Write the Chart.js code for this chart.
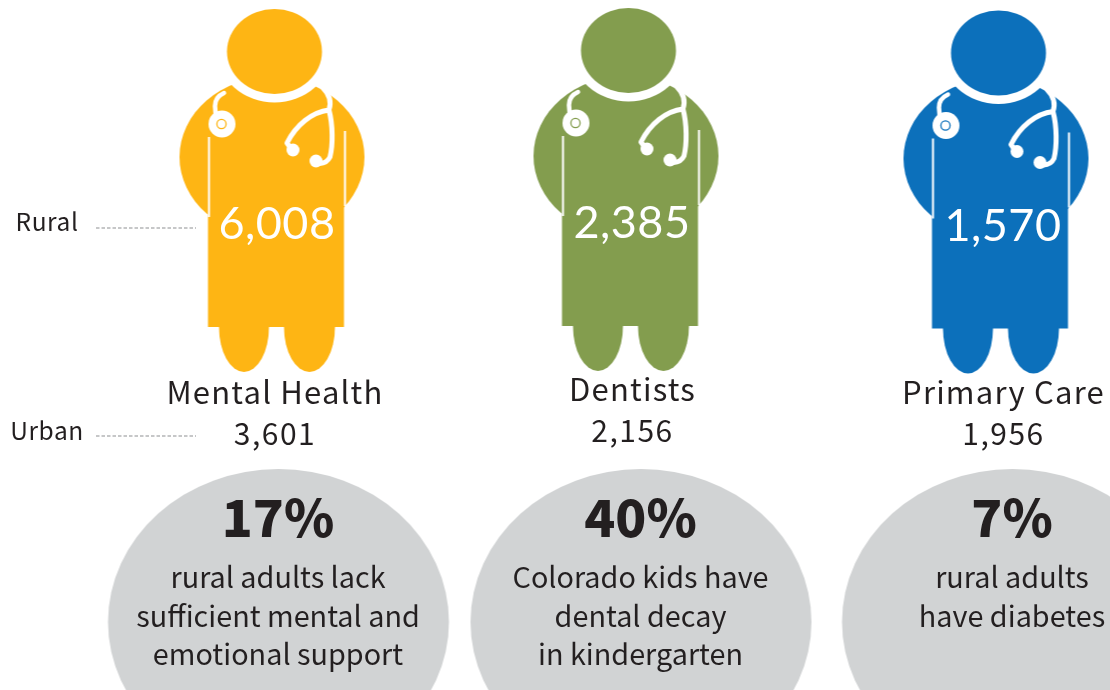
<!DOCTYPE html>
<html>
<head>
<meta charset="utf-8">
<title>Colorado health workforce</title>
<script src="https://cdn.jsdelivr.net/npm/chart.js@4"></script>
<style>
html, body { margin: 0; padding: 0; background: #fff; overflow: hidden; }
canvas { display: block; }
</style>
</head>
<body>
<canvas id="chart" width="1110" height="690"></canvas>
<script>
const categories = ['Mental Health', 'Dentists', 'Primary Care'];
const rows = ['Rural', 'Urban', 'Share'];
const ruralCounts = [6008, 2385, 1570];
const urbanCounts = [3601, 2156, 1956];
const percents = [17, 40, 7];
const captions = [
    ['rural adults lack', 'sufficient mental and', 'emotional support'],
    ['Colorado kids have', 'dental decay', 'in kindergarten'],
    ['rural adults', 'have diabetes']
];

const colors = ['#feb514', '#839d4e', '#0c70bb'];
const inkColor = '#231f20';
const bubbleColor = '#d1d3d4';
const textFont = '"Noto Sans CJK SC", "Noto Sans", sans-serif';

// the columns in the picture are not quite evenly spaced
const doctorShiftX = [0, -8, 0];
const doctorShiftY = [0, -1, 1.5];
const titleShiftX = [0.5, -4, 5];
const titleBaseline = [404, 401, 404];
const urbanBaseline = [445, 442, 445];
const numberShiftX = [2.5, -4.5, 4.5];
const numberBaseline = [238.5, 237.5, 240.5];
const bubbleShiftX = [4, 4.5, 14];

function makeDoctor(color, shiftX, shiftY) {
    const c = document.createElement('canvas');
    c.width = 280;
    c.height = 480;
    const g = c.getContext('2d');
    // drawn in page pixels of the first figure, anchor at (274.5, 228)
    g.translate(140 - 274.5 + shiftX, 240 - 228 + shiftY);

    const ellipse = (x, y, rx, ry, fill) => {
        g.fillStyle = fill;
        g.beginPath();
        g.ellipse(x, y, rx, ry, 0, 0, Math.PI * 2);
        g.fill();
    };

    // arms + legs + torso
    ellipse(272, 157, 92.5, 80, color);
    ellipse(244, 327, 25, 45, color);
    ellipse(309.5, 327, 25.5, 45, color);
    g.fillStyle = color;
    g.fillRect(208, 125, 136, 202);

    // gaps next to the arms
    g.fillStyle = '#fff';
    g.fillRect(208, 137, 2, 80);
    g.fillRect(344, 131, 2, 75);

    // collar and head
    ellipse(274.5, 51.5, 57, 51, '#fff');
    ellipse(274.5, 51.5, 47.5, 42.5, color);

    // stethoscope
    g.strokeStyle = '#fff';
    g.lineCap = 'round';
    g.lineJoin = 'round';
    g.lineWidth = 4.5;
    g.beginPath();
    g.moveTo(224, 93);
    g.quadraticCurveTo(215, 97, 215, 106);
    g.lineTo(216, 118);
    g.stroke();
    ellipse(222, 124, 13.5, 13.5, '#fff');
    g.strokeStyle = color;
    g.lineWidth = 1.3;
    g.beginPath();
    g.arc(221.5, 124, 4.6, 0, Math.PI * 2);
    g.stroke();

    g.strokeStyle = '#fff';
    g.lineWidth = 5;
    g.beginPath();
    g.moveTo(323, 88);
    g.quadraticCurveTo(333, 98, 329, 110);
    g.bezierCurveTo(312, 112, 296, 125, 287, 143);
    g.lineTo(292, 150);
    g.stroke();
    g.beginPath();
    g.moveTo(329, 110);
    g.bezierCurveTo(333, 125, 333, 145, 330, 157);
    g.quadraticCurveTo(326, 165, 316, 163);
    g.stroke();
    ellipse(293, 150, 6.5, 6.5, '#fff');
    ellipse(316, 161, 6.5, 6.5, '#fff');
    return c;
}

function makeBubble(shiftX) {
    const c = document.createElement('canvas');
    c.width = 380;
    c.height = 400;
    const g = c.getContext('2d');
    g.fillStyle = bubbleColor;
    g.beginPath();
    // widest line sits above the row anchor
    g.ellipse(190 + shiftX, 200 - 22, 170.5, 153, 0, 0, Math.PI * 2);
    g.fill();
    return c;
}

const doctorSprites = colors.map((col, i) => makeDoctor(col, doctorShiftX[i], doctorShiftY[i]));
const bubbleSprites = bubbleShiftX.map(makeBubble);

const pictureLabels = {
    id: 'pictureLabels',
    afterDatasetsDraw(chart) {
        const ctx = chart.ctx;
        const pts = name => chart.getDatasetMeta(chart.data.datasets.findIndex(d => d.label === name)).data;
        const put = (text, x, y, font, color, spacing) => {
            ctx.font = font;
            ctx.fillStyle = color;
            ctx.letterSpacing = spacing || '0px';
            ctx.fillText(text, x, y);
        };
        ctx.save();
        ctx.textAlign = 'center';
        ctx.textBaseline = 'alphabetic';

        pts('Rural').forEach((el, i) => {
            put(ruralCounts[i].toLocaleString('en-US'), el.x + numberShiftX[i], numberBaseline[i],
                '400 45px Lato, sans-serif', '#fff', '0.5px');
        });
        pts('Urban').forEach((el, i) => {
            put(categories[i], el.x + titleShiftX[i], titleBaseline[i], '400 31px ' + textFont, inkColor, '1.2px');
            put(urbanCounts[i].toLocaleString('en-US'), el.x + titleShiftX[i], urbanBaseline[i], '400 30px ' + textFont, inkColor, '1.5px');
        });
        pts('Share').forEach((el, i) => {
            const cx = el.x + bubbleShiftX[i] - 0.5;
            put(percents[i] + '%', cx, 537, '900 51px ' + textFont, inkColor);
            captions[i].forEach((line, k) => {
                put(line, cx, 588.3 + k * 38.5, '400 28.8px ' + textFont, inkColor);
            });
        });

        // row labels with their dashed leaders
        const rowNames = rows.slice(0, 2);
        const labelX = [47, 47];
        const labelBase = [231, 440];
        rowNames.forEach((name, i) => {
            const y = chart.scales.y.getPixelForValue(name);
            put(name, labelX[i], labelBase[i], '400 24.5px ' + textFont, inkColor, '0.6px');
            ctx.strokeStyle = '#b4b5b7';
            ctx.lineWidth = 1.5;
            ctx.setLineDash([3.5, 2]);
            ctx.beginPath();
            ctx.moveTo(96, y);
            ctx.lineTo(196, y);
            ctx.stroke();
            ctx.setLineDash([]);
        });
        ctx.restore();
    }
};

const chart = new Chart(document.getElementById('chart').getContext('2d'), {
    type: 'scatter',
    data: {
        datasets: [
            {
                label: 'Rural',
                data: categories.map((c, i) => ({ x: c, y: 'Rural', v: ruralCounts[i] })),
                pointStyle: doctorSprites,
                pointRadius: 1,
                clip: false
            },
            {
                label: 'Urban',
                data: categories.map((c, i) => ({ x: c, y: 'Urban', v: urbanCounts[i] })),
                pointRadius: 0,
                clip: false
            },
            {
                label: 'Share',
                data: categories.map((c, i) => ({ x: c, y: 'Share', v: percents[i] })),
                pointStyle: bubbleSprites,
                pointRadius: 1,
                clip: false
            }
        ]
    },
    options: {
        responsive: false,
        animation: false,
        layout: { padding: { left: 274.5, right: 111.5, top: 228, bottom: 46 } },
        plugins: {
            legend: { display: false },
            tooltip: { enabled: false }
        },
        scales: {
            x: { type: 'category', labels: categories, offset: false, display: false },
            y: { type: 'category', labels: rows, offset: false, display: false }
        }
    },
    plugins: [pictureLabels]
});
</script>
</body>
</html>
